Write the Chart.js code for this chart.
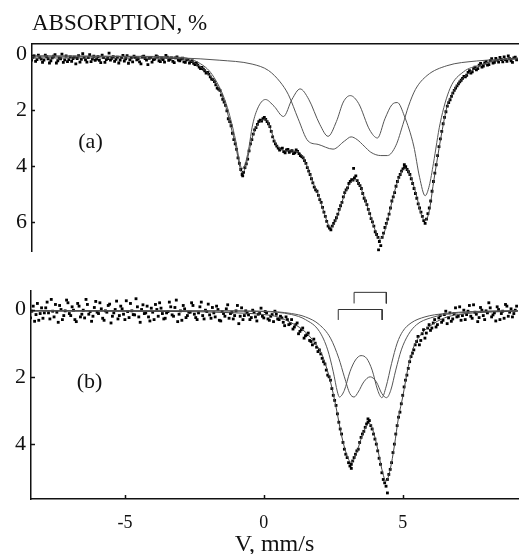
<!DOCTYPE html>
<html>
<head>
<meta charset="utf-8">
<script src="https://cdn.jsdelivr.net/npm/chart.js@4.4.1/dist/chart.umd.min.js"></script>
<style>
    html, body { margin: 0; padding: 0; background: #fff; }
    #wrap { position: relative; width: 522px; height: 554px; }
    #chartA { position: absolute; left: 0; top: 0; }
    #chartB { position: absolute; left: 0; top: 270px; }
</style>
</head>
<body>
<div id="wrap">
    <canvas id="chartA" width="522" height="270"></canvas>
    <canvas id="chartB" width="522" height="284"></canvas>
</div>
<script>
/*** Data: velocity (mm/s) vs absorption (%) ***/
const velocityRange = [-8.38, 9.15];
const yTicksA = [0, 2, 4, 6];
const yTicksB = [0, 2, 4];
const xTicksB = [-5, 0, 5];

// panel (a) measured points
const pointsA = [
    [-8.4,0.20],[-8.3,0.05],[-8.2,0.18],[-8.1,0.10],[-8.0,0.28],[-7.9,0.02],[-7.8,0.15],[-7.7,0.22],[-7.6,0.06],[-7.5,0.30],
    [-7.4,0.12],[-7.3,-0.02],[-7.2,0.19],[-7.1,0.25],[-7.0,0.08],[-6.9,0.14],[-6.8,0.33],[-6.7,0.04],[-6.6,0.17],[-6.5,0.10],
    [-6.4,0.27],[-6.3,0.00],[-6.2,0.16],[-6.1,0.21],[-6.0,0.07],[-5.9,0.29],[-5.8,0.11],[-5.7,0.18],[-5.6,-0.05],[-5.5,0.13],
    [-5.4,0.24],[-5.3,0.09],[-5.2,0.20],[-5.1,0.03],[-5.0,0.15],[-4.9,0.31],[-4.8,0.12],[-4.7,0.06],[-4.6,0.19],[-4.5,0.26],
    [-4.4,0.08],[-4.3,0.14],[-4.2,0.36],[-4.1,0.10],[-4.0,0.18],[-3.9,0.05],[-3.8,0.22],[-3.7,0.13],[-3.6,0.27],[-3.5,0.09],
    [-3.4,0.17],[-3.3,0.24],[-3.2,0.12],[-3.1,0.20],[-3.0,0.16],[-2.9,0.26],[-2.8,0.19],[-2.7,0.30],[-2.6,0.23],[-2.5,0.36],
    [-2.4,0.38],[-2.3,0.50],[-2.2,0.52],[-2.1,0.66],[-2.0,0.70],[-1.9,0.88],[-1.8,0.97],[-1.7,1.20],[-1.6,1.28],[-1.5,1.60],
    [-1.4,1.82],[-1.3,2.30],[-1.2,2.55],[-1.1,3.05],[-1.0,3.40],[-0.9,3.90],[-0.8,4.30],[-0.7,4.05],[-0.6,3.75],[-0.5,3.20],
    [-0.4,2.85],[-0.3,2.62],[-0.2,2.40],[-0.1,2.38],[0.0,2.25],[0.1,2.40],[0.2,2.58],[0.3,2.95],[0.4,3.20],[0.5,3.35],
    [0.6,3.38],[0.7,3.48],[0.8,3.42],[0.9,3.50],[1.0,3.44],[1.1,3.52],[1.2,3.47],[1.3,3.62],[1.4,3.70],[1.5,3.90],
    [1.6,4.18],[1.7,4.45],[1.8,4.75],[1.9,4.90],[2.0,5.20],[2.1,5.48],[2.2,5.80],[2.3,6.15],[2.4,6.28],[2.5,6.05],
    [2.6,5.85],[2.7,5.55],[2.8,5.30],[2.9,4.95],[3.0,4.78],[3.1,4.55],[3.2,4.50],[3.3,4.35],[3.4,4.62],[3.5,4.80],
    [3.6,5.15],[3.7,5.38],[3.8,5.70],[3.9,6.00],[4.0,6.35],[4.1,6.55],[4.2,6.85],[4.3,6.40],[4.4,6.05],[4.5,5.72],
    [4.6,5.25],[4.7,4.95],[4.8,4.55],[4.9,4.30],[5.0,4.10],[5.1,4.02],[5.2,4.20],[5.3,4.45],[5.4,4.80],[5.5,5.15],
    [5.6,5.50],[5.7,5.80],[5.8,6.05],[5.9,5.70],[6.0,5.25],[6.1,4.55],[6.2,3.95],[6.3,3.30],[6.4,2.75],[6.5,2.25],
    [6.6,1.85],[6.7,1.62],[6.8,1.38],[6.9,1.20],[7.0,1.05],[7.1,0.92],[7.2,0.78],[7.3,0.74],[7.4,0.58],[7.5,0.62],
    [7.6,0.45],[7.7,0.50],[7.8,0.32],[7.9,0.41],[8.0,0.24],[8.1,0.36],[8.2,0.15],[8.3,0.28],[8.4,0.20],[8.5,0.10],
    [8.6,0.26],[8.7,0.18],[8.8,0.05],[8.9,0.22],[9.0,0.12],[9.1,0.19],
    [-8.35,0.10],[-8.25,0.24],[-8.15,0.02],[-8.05,0.16],[-7.95,0.20],[-7.85,0.07],[-7.75,0.30],[-7.65,0.12],[-7.55,0.00],[-7.45,0.22],
    [-7.35,0.15],[-7.25,0.28],[-7.15,0.05],[-7.05,0.18],[-6.95,0.24],[-6.85,0.09],[-6.75,0.14],[-6.65,0.27],[-6.55,-0.03],[-6.45,0.19],
    [-6.35,0.11],[-6.25,0.25],[-6.15,0.06],[-6.05,0.16],[-5.95,0.21],[-5.85,0.02],[-5.75,0.28],[-5.65,0.14],[-5.55,0.20],[-5.45,0.07],
    [-5.35,0.17],[-5.25,0.30],[-5.15,0.11],[-5.05,0.23],[-4.95,0.04],[-4.85,0.19],[-4.75,0.26],[-4.65,0.10],[-4.55,0.15],[-4.45,0.33],
    [-4.35,0.06],[-4.25,0.20],[-4.15,0.13],[-4.05,0.27],[-3.95,0.16],[-3.85,0.08],[-3.75,0.25],[-3.65,0.18],[-3.55,0.03],[-3.45,0.21],
    [-3.35,0.12],[-3.25,0.29],[-3.15,0.08],[-3.05,0.22],[-2.95,0.13],[-2.85,0.28],[-2.75,0.17],[-2.65,0.25],[-2.55,0.31],[-2.45,0.30],
    [-2.35,0.45],[-2.25,0.46],[-2.15,0.58],[-2.05,0.64],[-1.95,0.80],[-1.85,0.90],[-1.75,1.08],[-1.65,1.24],[-1.55,1.45],[-1.45,1.70],
    [-1.35,2.02],[-1.25,2.40],[-1.15,2.82],[-1.05,3.20],[-0.95,3.70],[-0.85,4.12],[-0.75,4.22],[-0.65,3.92],[-0.55,3.45],[-0.45,3.05],
    [-0.35,2.70],[-0.25,2.50],[-0.15,2.35],[-0.05,2.30],[0.05,2.32],[0.15,2.48],[0.25,2.75],[0.35,3.10],[0.45,3.28],[0.55,3.42],
    [0.65,3.35],[0.75,3.52],[0.85,3.40],[0.95,3.46],[1.05,3.55],[1.15,3.42],[1.25,3.55],[1.35,3.66],[1.45,3.80],[1.55,4.05],
    [1.65,4.30],[1.75,4.60],[1.85,4.85],[1.95,5.05],[2.05,5.30],[2.15,5.65],[2.25,5.98],[2.35,6.22],[2.45,6.15],[2.55,5.95],
    [2.65,5.72],[2.75,5.42],[2.85,5.10],[2.95,4.85],[3.05,4.62],[3.15,4.48],[3.25,4.42],[3.35,4.52],[3.45,4.70],[3.55,4.98],
    [3.65,5.25],[3.75,5.55],[3.85,5.88],[3.95,6.15],[4.05,6.45],[4.15,6.70],[4.25,6.55],[4.35,6.20],[4.45,5.90],[4.55,5.50],
    [4.65,5.10],[4.75,4.72],[4.85,4.40],[4.95,4.18],[5.05,4.05],[5.15,4.12],[5.25,4.30],[5.35,4.62],[5.45,4.98],[5.55,5.35],
    [5.65,5.65],[5.75,5.95],[5.85,5.90],[5.95,5.50],[6.05,4.90],[6.15,4.25],[6.25,3.62],[6.35,3.02],[6.45,2.48],[6.55,2.05],
    [6.65,1.72],[6.75,1.50],[6.85,1.28],[6.95,1.12],[7.05,0.98],[7.15,0.85],[7.25,0.80],[7.35,0.64],[7.45,0.66],[7.55,0.50],
    [7.65,0.55],[7.75,0.38],[7.85,0.45],[7.95,0.30],[8.05,0.38],[8.15,0.22],[8.25,0.30],[8.35,0.14],[8.45,0.27],[8.55,0.18],
    [8.65,0.08],[8.75,0.24],[8.85,0.15],[8.95,0.28],[9.05,0.09],
    [4.12,7.00],[3.22,4.08],[5.05,3.95],[-0.78,4.35]
];

// panel (a) fitted envelope and its two components
const fitA = [
    [-8.38,0.12],[-6,0.12],[-4,0.13],[-3.0,0.15],[-2.6,0.25],[-2.35,0.41],[-2.1,0.6],[-1.88,0.86],[-1.6,1.3],[-1.38,1.9],
    [-1.2,2.6],[-1.03,3.28],[-0.9,3.95],[-0.81,4.24],[-0.7,4.1],[-0.6,3.7],[-0.45,3.03],[-0.3,2.6],[-0.15,2.4],[0.05,2.31],
    [0.2,2.6],[0.4,3.17],[0.6,3.4],[0.87,3.45],[1.22,3.48],[1.48,3.86],[1.6,4.15],[1.76,4.6],[1.94,5.0],[2.1,5.5],
    [2.25,5.95],[2.37,6.2],[2.5,6.1],[2.7,5.6],[2.9,5.0],[3.1,4.6],[3.26,4.48],[3.4,4.6],[3.6,5.1],[3.8,5.7],
    [4.0,6.3],[4.15,6.62],[4.3,6.45],[4.5,5.7],[4.7,4.9],[4.9,4.3],[5.08,4.07],[5.25,4.3],[5.5,5.1],[5.65,5.7],
    [5.8,5.95],[5.95,5.6],[6.1,4.6],[6.22,3.86],[6.4,2.8],[6.58,1.9],[6.8,1.35],[7.05,0.97],[7.4,0.65],[7.76,0.41],
    [8.0,0.3],[8.37,0.2],[9.15,0.14]
];
const sextetA = [
    [-8.38,0.05],[-5,0.06],[-3,0.1],[-2.35,0.3],[-1.88,0.72],[-1.38,1.75],[-1.03,3.1],[-0.9,3.8],[-0.81,4.08],[-0.7,3.95],
    [-0.55,3.3],[-0.44,2.6],[-0.25,1.95],[0.04,1.61],[0.35,1.85],[0.69,2.22],[1.0,1.6],[1.29,1.23],[1.6,1.6],[2.0,2.5],
    [2.3,2.93],[2.6,2.4],[2.85,1.7],[3.1,1.47],[3.4,1.75],[3.8,2.7],[4.08,2.99],[4.35,2.3],[4.6,1.8],[4.8,1.72],
    [5.05,2.2],[5.39,3.28],[5.6,4.4],[5.8,5.06],[5.95,4.7],[6.1,3.9],[6.34,2.47],[6.7,1.21],[7.18,0.62],[7.76,0.38],
    [8.4,0.2],[9.15,0.12]
];
const broadA = [
    [-8.38,0.05],[-5,0.07],[-3,0.12],[-1.63,0.2],[-0.44,0.34],[0.15,0.57],[0.57,0.98],[0.87,1.44],[1.22,2.3],[1.58,3.1],
    [1.94,3.22],[2.48,3.39],[2.89,3.1],[3.13,2.95],[3.35,3.05],[3.6,3.28],[3.84,3.5],[4.2,3.62],[4.44,3.62],[4.75,3.25],
    [5.0,2.5],[5.2,1.85],[5.45,1.25],[5.87,0.75],[6.58,0.4],[7.65,0.23],[9.15,0.15]
];

// panel (b) measured points
const pointsB = [
    [-8.4,0.25],[-8.3,-0.10],[-8.2,0.15],[-8.1,0.32],[-8.0,-0.05],[-7.9,0.10],[-7.8,-0.22],[-7.7,0.28],[-7.6,0.05],[-7.5,-0.15],
    [-7.4,0.38],[-7.3,0.00],[-7.2,0.18],[-7.1,-0.28],[-7.0,0.12],[-6.9,-0.08],[-6.8,0.30],[-6.7,-0.18],[-6.6,0.22],[-6.5,0.02],
    [-6.4,-0.30],[-6.3,0.14],[-6.2,0.35],[-6.1,-0.06],[-6.0,0.08],[-5.9,-0.20],[-5.8,0.26],[-5.7,0.04],[-5.6,-0.12],[-5.5,0.40],
    [-5.4,0.10],[-5.3,-0.25],[-5.2,0.18],[-5.1,-0.02],[-5.0,0.30],[-4.9,0.06],[-4.8,-0.18],[-4.7,0.15],[-4.6,-0.32],[-4.5,0.22],
    [-4.4,0.00],[-4.3,0.12],[-4.2,-0.10],[-4.1,0.34],[-4.0,0.08],[-3.9,-0.15],[-3.8,0.20],[-3.7,-0.04],[-3.6,0.28],[-3.5,0.10],
    [-3.4,-0.22],[-3.3,0.16],[-3.2,-0.06],[-3.1,0.36],[-3.0,0.04],[-2.9,-0.12],[-2.8,0.24],[-2.7,0.08],[-2.6,-0.20],[-2.5,0.14],
    [-2.4,0.30],[-2.3,-0.08],[-2.2,0.18],[-2.1,0.02],[-2.0,-0.16],[-1.9,0.26],[-1.8,0.10],[-1.7,-0.10],[-1.6,0.32],[-1.5,0.06],
    [-1.4,0.20],[-1.3,-0.14],[-1.2,0.12],[-1.1,0.28],[-1.0,0.04],[-0.9,0.42],[-0.8,-0.05],[-0.7,0.18],[-0.6,0.10],[-0.5,0.30],
    [-0.4,0.02],[-0.3,0.22],[-0.2,0.14],[-0.1,-0.04],[0.0,0.25],[0.1,0.10],[0.2,0.32],[0.3,0.15],[0.4,0.05],[0.5,0.28],
    [0.6,0.20],[0.7,0.38],[0.8,0.22],[0.9,0.45],[1.0,0.30],[1.1,0.52],[1.2,0.40],[1.3,0.65],[1.4,0.55],[1.5,0.78],
    [1.6,0.70],[1.7,0.95],[1.8,0.88],[1.9,1.12],[2.0,1.20],[2.1,1.45],[2.2,1.62],[2.3,1.95],[2.4,2.10],[2.5,2.55],
    [2.6,2.85],[2.7,3.35],[2.8,3.70],[2.9,4.15],[3.0,4.40],[3.1,4.65],[3.2,4.50],[3.3,4.30],[3.4,4.15],[3.5,3.80],
    [3.6,3.62],[3.7,3.40],[3.8,3.30],[3.9,3.55],[4.0,3.85],[4.1,4.20],[4.2,4.60],[4.3,5.05],[4.4,5.25],[4.5,4.90],
    [4.6,4.55],[4.7,4.00],[4.8,3.45],[4.9,3.05],[5.0,2.55],[5.1,2.10],[5.2,1.75],[5.3,1.40],[5.4,1.20],[5.5,0.95],
    [5.6,1.05],[5.7,0.72],[5.8,0.85],[5.9,0.55],[6.0,0.62],[6.1,0.40],[6.2,0.52],[6.3,0.25],[6.4,0.38],[6.5,0.15],
    [6.6,0.42],[6.7,0.10],[6.8,0.28],[6.9,-0.05],[7.0,0.20],[7.1,0.32],[7.2,0.02],[7.3,0.15],[7.4,-0.12],[7.5,0.26],
    [7.6,0.08],[7.7,0.36],[7.8,-0.06],[7.9,0.18],[8.0,0.04],[8.1,-0.20],[8.2,0.22],[8.3,0.10],[8.4,-0.08],[8.5,0.30],
    [8.6,0.05],[8.7,-0.15],[8.8,0.20],[8.9,-0.02],[9.0,0.12],[9.1,-0.10],
    [-8.35,0.05],[-8.25,0.35],[-8.15,-0.18],[-8.05,0.12],[-7.95,0.26],[-7.85,-0.05],[-7.75,0.10],[-7.65,-0.30],[-7.55,0.22],[-7.45,0.08],
    [-7.35,-0.12],[-7.25,0.30],[-7.15,0.04],[-7.05,-0.20],[-6.95,0.18],[-6.85,0.02],[-6.75,0.36],[-6.65,-0.10],[-6.55,0.14],[-6.45,0.25],
    [-6.35,-0.15],[-6.25,0.06],[-6.15,0.20],[-6.05,-0.24],[-5.95,0.12],[-5.85,-0.02],[-5.75,0.32],[-5.65,0.08],[-5.55,-0.16],[-5.45,0.20],
    [-5.35,0.00],[-5.25,0.28],[-5.15,-0.10],[-5.05,0.14],[-4.95,-0.26],[-4.85,0.24],[-4.75,0.04],[-4.65,0.16],[-4.55,-0.08],[-4.45,0.38],
    [-4.35,-0.14],[-4.25,0.10],[-4.15,0.22],[-4.05,-0.04],[-3.95,0.30],[-3.85,0.00],[-3.75,-0.20],[-3.65,0.12],[-3.55,0.26],[-3.45,0.06],
    [-3.35,-0.08],[-3.25,0.20],[-3.15,-0.28],[-3.05,0.14],[-2.95,0.32],[-2.85,-0.02],[-2.75,0.18],[-2.65,0.08],[-2.55,-0.12],[-2.45,0.24],
    [-2.35,0.10],[-2.25,-0.22],[-2.15,0.28],[-2.05,0.06],[-1.95,0.16],[-1.85,-0.06],[-1.75,0.22],[-1.65,0.00],[-1.55,0.34],[-1.45,0.12],
    [-1.35,-0.02],[-1.25,0.26],[-1.15,0.08],[-1.05,0.18],[-0.95,-0.12],[-0.85,0.20],[-0.75,0.30],[-0.65,0.04],[-0.55,0.16],[-0.45,0.24],
    [-0.35,0.08],[-0.25,0.34],[-0.15,0.12],[-0.05,0.20],[0.05,0.06],[0.15,0.28],[0.25,0.20],[0.35,0.36],[0.45,0.14],[0.55,0.30],
    [0.65,0.25],[0.75,0.48],[0.85,0.30],[0.95,0.42],[1.05,0.58],[1.15,0.45],[1.25,0.72],[1.35,0.60],[1.45,0.85],[1.55,0.75],
    [1.65,0.92],[1.75,1.05],[1.85,1.00],[1.95,1.25],[2.05,1.32],[2.15,1.55],[2.25,1.80],[2.35,2.00],[2.45,2.35],[2.55,2.70],
    [2.65,3.10],[2.75,3.55],[2.85,3.95],[2.95,4.30],[3.05,4.55],[3.15,4.60],[3.25,4.40],[3.35,4.20],[3.45,3.95],[3.55,3.70],
    [3.65,3.50],[3.75,3.35],[3.85,3.45],[3.95,3.70],[4.05,4.00],[4.15,4.42],[4.25,4.85],[4.35,5.15],[4.45,5.05],[4.55,4.75],
    [4.65,4.25],[4.75,3.70],[4.85,3.20],[4.95,2.80],[5.05,2.30],[5.15,1.95],[5.25,1.55],[5.35,1.30],[5.45,1.05],[5.55,0.80],
    [5.65,0.92],[5.75,0.60],[5.85,0.70],[5.95,0.45],[6.05,0.55],[6.15,0.30],[6.25,0.45],[6.35,0.18],[6.45,0.32],[6.55,0.05],
    [6.65,0.25],[6.75,0.35],[6.85,0.12],[6.95,0.22],[7.05,-0.08],[7.15,0.18],[7.25,0.30],[7.35,0.05],[7.45,0.20],[7.55,-0.14],
    [7.65,0.14],[7.75,0.24],[7.85,0.02],[7.95,0.30],[8.05,0.10],[8.15,-0.05],[8.25,0.16],[8.35,0.34],[8.45,0.00],[8.55,0.12],
    [8.65,0.26],[8.75,-0.10],[8.85,0.08],[8.95,0.22],[9.05,0.02],
    [4.45,5.45],[3.15,4.72],[3.75,3.25]
];

// panel (b) fitted envelope and two doublets
const fitB = [
    [-8.38,0.05],[-3,0.06],[-1,0.1],[0,0.15],[0.5,0.22],[1.0,0.4],[1.4,0.6],[1.8,0.95],[2.1,1.35],[2.4,2.15],
    [2.6,2.9],[2.8,3.75],[3.0,4.35],[3.15,4.55],[3.3,4.35],[3.5,3.85],[3.7,3.45],[3.8,3.38],[3.95,3.65],[4.1,4.15],
    [4.25,4.75],[4.4,5.1],[4.55,4.75],[4.7,4.05],[4.85,3.2],[5.0,2.6],[5.2,1.7],[5.4,1.1],[5.7,0.7],[6.0,0.48],
    [6.5,0.25],[7.0,0.15],[8.0,0.08],[9.15,0.05]
];
const doubletFitA = [
    [-8.38,0.03],[-2,0.04],[0,0.06],[1.0,0.15],[1.5,0.3],[2.0,0.65],[2.3,1.2],[2.5,1.85],[2.65,2.45],[2.72,2.6],
    [2.9,2.4],[3.1,1.85],[3.3,1.5],[3.5,1.37],[3.7,1.45],[3.9,1.8],[4.1,2.4],[4.25,2.62],[4.4,2.3],[4.6,1.6],
    [4.8,1.0],[5.0,0.65],[5.3,0.4],[5.8,0.22],[6.5,0.12],[7.5,0.06],[9.15,0.03]
];
const doubletFitB = [
    [-8.38,0.03],[-2,0.04],[0,0.05],[1.0,0.12],[1.5,0.22],[2.0,0.45],[2.4,0.85],[2.7,1.45],[2.9,2.0],[3.1,2.5],
    [3.25,2.6],[3.4,2.45],[3.6,2.15],[3.83,2.0],[4.05,2.15],[4.25,2.5],[4.42,2.62],[4.57,2.4],[4.75,1.8],[4.95,1.2],
    [5.2,0.75],[5.5,0.45],[6.0,0.25],[7.0,0.1],[9.15,0.04]
];
// line positions of the two doublets (stick diagram above panel b)
const doubletLinesA = [2.68, 4.26];
const doubletLinesB = [3.25, 4.41];

/*** Style ***/
const serif = "'Liberation Serif', 'Times New Roman', serif";
const ink = '#111';

/*** Plugins ***/
// short ticks drawn inside the plot area
const innerTicks = {
    id: 'innerTicks',
    afterDraw(chart, args, opts) {
        const ctx = chart.ctx;
        const y = chart.scales.y, x = chart.scales.x;
        ctx.save();
        ctx.strokeStyle = ink;
        ctx.lineWidth = 1.5;
        y.ticks.forEach(t => {
            const py = Math.round(y.getPixelForValue(t.value)) + 0.5;
            ctx.beginPath();
            ctx.moveTo(y.right, py);
            ctx.lineTo(y.right + opts.len, py);
            ctx.stroke();
        });
        if (opts.xTicks) {
            x.ticks.forEach(t => {
                const px = Math.round(x.getPixelForValue(t.value)) + 0.5;
                ctx.beginPath();
                ctx.moveTo(px, x.top);
                ctx.lineTo(px, x.top - opts.len);
                ctx.stroke();
            });
        }
        ctx.restore();
    }
};

// panel letter and heading
const panelText = {
    id: 'panelText',
    afterDraw(chart, args, opts) {
        const {ctx, chartArea, scales} = chart;
        ctx.save();
        ctx.fillStyle = ink;
        ctx.font = '22px ' + serif;
        ctx.textAlign = 'center';
        ctx.textBaseline = 'middle';
        ctx.fillText(opts.label, scales.x.getPixelForValue(opts.at[0]), scales.y.getPixelForValue(opts.at[1]));
        if (opts.heading) {
            ctx.textAlign = 'left';
            ctx.textBaseline = 'alphabetic';
            ctx.font = '23px ' + serif;
            ctx.fillText(opts.heading, chartArea.left, chartArea.top - 14);
        }
        ctx.restore();
    }
};

function bracket(lines, top, depth) {
    return [[lines[0], depth], [lines[0], top], [lines[1], top], [lines[1], depth]];
}

function pointSet(data) {
    return {
        data: data,
        pointStyle: 'rect',
        pointRadius: 2,
        pointBackgroundColor: '#000',
        pointBorderWidth: 0,
        showLine: false,
        order: 5
    };
}

function curve(data, color, order) {
    return {
        data: data,
        showLine: true,
        borderColor: color,
        borderWidth: 1,
        pointRadius: 0,
        cubicInterpolationMode: 'monotone',
        fill: false,
        order: order
    };
}

/*** Panel (a) ***/
new Chart(document.getElementById('chartA'), {
    type: 'scatter',
    data: {
        datasets: [
            pointSet(pointsA),
            curve(fitA, '#444', 1),
            curve(sextetA, '#555', 2),
            curve(broadA, '#555', 2)
        ]
    },
    options: {
        responsive: false,
        animation: false,
        layout: { padding: { top: 44, bottom: 10, left: 0, right: 0 } },
        plugins: {
            legend: { display: false },
            tooltip: { enabled: false },
            innerTicks: { len: 3, xTicks: false },
            panelText: { label: '(a)', at: [-6.27, 3.14], heading: 'ABSORPTION, %' }
        },
        scales: {
            x: {
                type: 'linear',
                position: 'top',
                min: velocityRange[0],
                max: velocityRange[1],
                grid: { display: false, drawTicks: false },
                border: { display: true, color: ink, width: 1.5 },
                ticks: { display: false }
            },
            y: {
                reverse: true,
                min: -0.38,
                max: 7.07,
                afterBuildTicks: s => { s.ticks = yTicksA.map(v => ({ value: v })); },
                afterFit: s => { s.width = 32; },
                grid: { display: false, drawTicks: false },
                border: { display: true, color: ink, width: 1.5 },
                ticks: { color: ink, padding: 5, font: { family: serif, size: 22 } }
            }
        }
    },
    plugins: [innerTicks, panelText]
});

/*** Panel (b) ***/
new Chart(document.getElementById('chartB'), {
    type: 'scatter',
    data: {
        datasets: [
            pointSet(pointsB),
            curve(fitB, '#444', 1),
            curve(doubletFitA, '#555', 2),
            curve(doubletFitB, '#555', 2),
            Object.assign(curve(bracket(doubletLinesA, 0, 0.31), '#333', 0), { cubicInterpolationMode: 'default', tension: 0 }),
            Object.assign(curve(bracket(doubletLinesB, -0.51, -0.18), '#333', 0), { cubicInterpolationMode: 'default', tension: 0 })
        ]
    },
    options: {
        responsive: false,
        animation: false,
        layout: { padding: { top: 21, bottom: 0, left: 0, right: 0 } },
        plugins: {
            legend: { display: false },
            tooltip: { enabled: false },
            innerTicks: { len: 4, xTicks: true },
            panelText: { label: '(b)', at: [-6.27, 2.15] }
        },
        scales: {
            x: {
                type: 'linear',
                position: 'bottom',
                min: velocityRange[0],
                max: velocityRange[1],
                afterBuildTicks: s => { s.ticks = xTicksB.map(v => ({ value: v })); },
                afterFit: s => { s.height = 55; },
                grid: { display: false, drawTicks: false },
                border: { display: true, color: ink, width: 1.5 },
                ticks: { color: ink, padding: 13, maxRotation: 0, font: { family: serif, size: 18 } },
                title: { display: true, text: 'V, mm/s', color: ink, padding: 0, font: { family: serif, size: 24, lineHeight: 0.8 } }
            },
            y: {
                reverse: true,
                min: -0.55,
                max: 5.63,
                afterBuildTicks: s => { s.ticks = yTicksB.map(v => ({ value: v })); },
                afterFit: s => { s.width = 31; },
                grid: { display: false, drawTicks: false },
                border: { display: true, color: ink, width: 1.5 },
                ticks: { color: ink, padding: 5, font: { family: serif, size: 22 } }
            }
        }
    },
    plugins: [innerTicks, panelText]
});
</script>
</body>
</html>
